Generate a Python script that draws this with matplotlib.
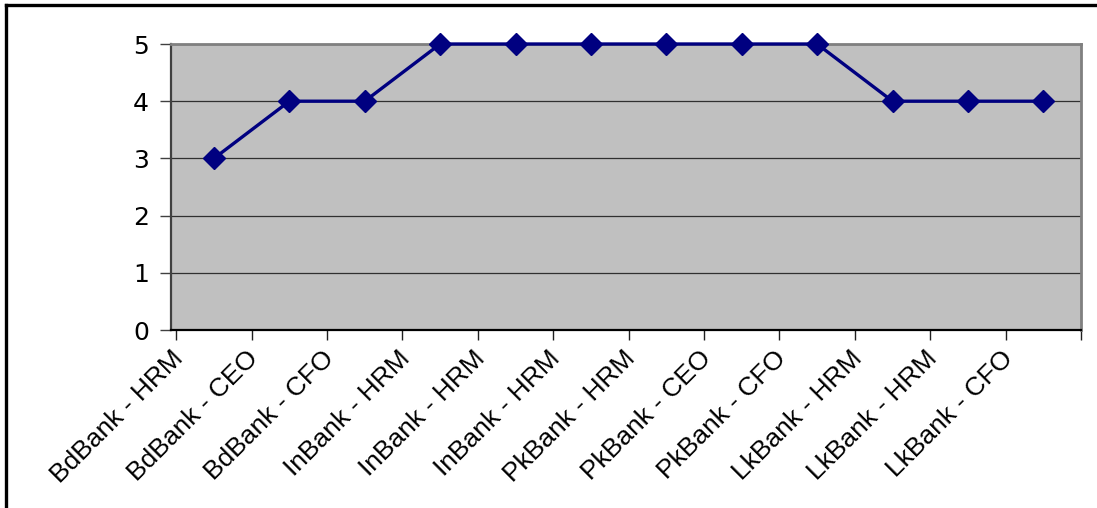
import matplotlib
matplotlib.use("Agg")
import matplotlib.pyplot as plt
from matplotlib.lines import Line2D
import numpy as np

categories = ["BdBank - HRM", "BdBank - CEO", "BdBank - CFO", "InBank - HRM",
              "InBank - HRM", "InBank - HRM", "PkBank - HRM", "PkBank - CEO",
              "PkBank - CFO", "LkBank - HRM", "LkBank - HRM", "LkBank - CFO"]
values = [3, 4, 4, 5, 5, 5, 5, 5, 5, 4, 4, 4]
yticks = [0, 1, 2, 3, 4, 5]

plt.rcParams['font.family'] = ['Liberation Sans', 'DejaVu Sans']

fig = plt.figure(figsize=(10.97, 5.08), dpi=100)
ax = fig.add_axes([171/1097, 1 - 330/508, (1081-171)/1097, (330-44)/508])
ax.set_facecolor('#C0C0C0')

x = np.arange(len(categories))
ax.plot(x, values, color='#000080', lw=2.4, marker='D', ms=11,
        mfc='#000080', mec='#000080', zorder=3, clip_on=False)

ax.set_xlim(-0.5, len(categories) - 0.5)
ax.set_ylim(0, 5)
ax.set_yticks(yticks)
ax.set_yticklabels([str(v) for v in yticks], fontsize=18, family=['DejaVu Sans'])
ax.tick_params(axis='y', length=8, width=1, color='#404040', pad=8)

# major ticks at category boundaries
ax.set_xticks(np.arange(len(categories) + 1) - 0.5)
ax.set_xticklabels([''] * (len(categories) + 1))
ax.tick_params(axis='x', which='major', length=7, width=1, color='#202020')
# labels as minor ticks
ax.set_xticks(x - 0.57, minor=True)
ax.set_xticklabels(categories, minor=True, rotation=45, ha='right',
                   rotation_mode='anchor', fontsize=19)
ax.tick_params(axis='x', which='minor', length=0, pad=12)

ax.grid(axis='y', color='#303030', lw=0.9)
ax.set_axisbelow(True)

for s in ['top', 'right']:
    ax.spines[s].set_color('#808080')
    ax.spines[s].set_linewidth(2)
ax.spines['left'].set_color('#404040')
ax.spines['left'].set_linewidth(1.6)
ax.spines['bottom'].set_color('#000000')
ax.spines['bottom'].set_linewidth(1.6)

# figure border (left and top)
fig.add_artist(Line2D([6/1097, 6/1097], [0, 1 - 5/508], color='black', lw=2.4,
                      transform=fig.transFigure, solid_capstyle='projecting'))
fig.add_artist(Line2D([6/1097, 1], [1 - 5/508, 1 - 5/508], color='black', lw=2.4,
                      transform=fig.transFigure, solid_capstyle='projecting'))

fig.savefig('out.png', dpi=100)
